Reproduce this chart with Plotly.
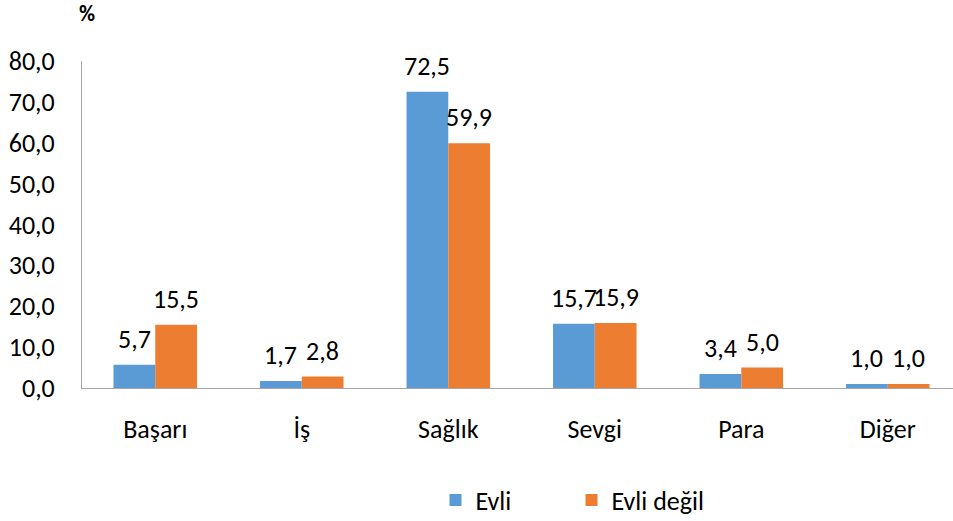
import plotly.graph_objects as go

categories = ["Başarı", "İş", "Sağlık", "Sevgi", "Para", "Diğer"]
evli = [5.7, 1.7, 72.5, 15.7, 3.4, 1.0]
evli_degil = [15.5, 2.8, 59.9, 15.9, 5.0, 1.0]
series_names = ["Evli", "Evli değil"]
colors = ["#5B9BD5", "#ED7D31"]

FONT = "Carlito, Calibri, 'Open Sans', sans-serif"
FS = 26
BARGAP = 0.43
L, T, B = 82, 61, 133
X_RANGE = [-0.5, 5.445]
PLOT_W = 953 - L
STEP = PLOT_W / (X_RANGE[1] - X_RANGE[0])
HALF_BAR = STEP * (1 - BARGAP) / 4
PLOT_H = 521 - T - B

fig = go.Figure()
for name, vals, col in zip(series_names, [evli, evli_degil], colors):
    fig.add_trace(go.Bar(
        x=categories, y=vals, name=name, marker_color=col,
        marker_line_width=0,
    ))

annotations = []
for sign, vals in zip([-1, 1], [evli, evli_degil]):
    for c, v in zip(categories, vals):
        annotations.append(dict(
            x=c, y=v, xref="x", yref="y", text=f"{v:.1f}".replace(".", ","),
            showarrow=False, xanchor="center", yanchor="bottom",
            xshift=sign * HALF_BAR, yshift=8,
            font=dict(size=FS, family=FONT, color="#000000"),
        ))
annotations.append(dict(text="<b>%</b>", x=(87 - L) / PLOT_W, y=1 + (T - 13) / PLOT_H,
                        xref="paper", yref="paper", showarrow=False,
                        xanchor="center", yanchor="middle",
                        font=dict(size=22, family=FONT, color="#000000")))

fig.update_layout(
    width=953, height=521,
    paper_bgcolor="white", plot_bgcolor="white",
    separators=",.",
    barmode="group", bargap=BARGAP, bargroupgap=0,
    margin=dict(l=L, r=0, t=T, b=B, autoexpand=False),
    font=dict(family=FONT, size=FS, color="#000000"),
    showlegend=True,
    legend=dict(orientation="h", x=0.562, xanchor="center", y=-0.3425, yanchor="middle",
                font=dict(size=FS, family=FONT), entrywidth=91, traceorder="normal"),
    annotations=annotations,
)

fig.update_yaxes(range=[0, 80], dtick=10, tickformat=".1f", showgrid=False, zeroline=False,
                 showline=True, linecolor="#A6A6A6", linewidth=1, ticks="",
                 ticklabelstandoff=21, tickfont=dict(size=FS, family=FONT))
fig.update_xaxes(range=X_RANGE, showgrid=False, showline=True, linecolor="#A6A6A6",
                 linewidth=1, ticks="", ticklabelstandoff=18, tickfont=dict(size=FS, family=FONT))

fig.write_html("out.html", config={"displayModeBar": False},
               post_script="document.body.style.margin='0';")
